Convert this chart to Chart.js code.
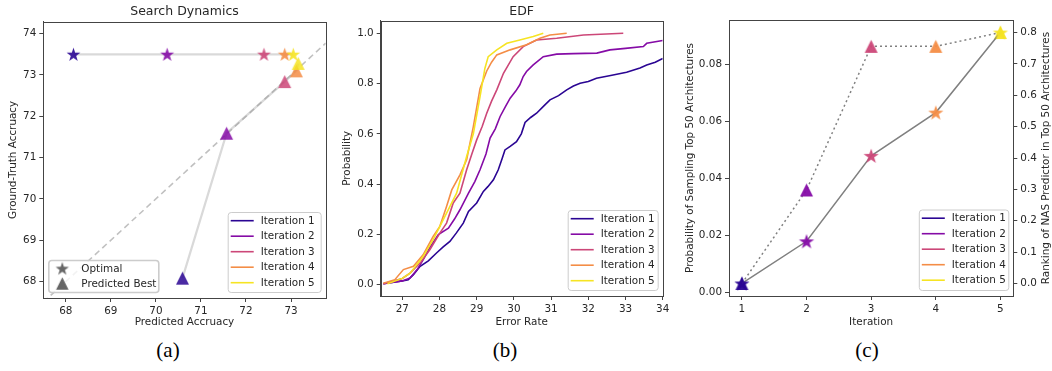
<!DOCTYPE html>
<html>
<head>
<meta charset="utf-8">
<title>Search Dynamics / EDF / Sampling probability</title>
<script src="https://cdn.jsdelivr.net/npm/chart.js"></script>
<style>
  body { margin: 0; background: #fff; }
  #fig { position: relative; width: 1052px; height: 371px; overflow: hidden; }
  canvas { position: absolute; }
  .sub { position: absolute; top: 338px; transform: translateX(-50%);
         font-family: "Liberation Serif", "DejaVu Serif", serif; font-size: 21px; color: #000; }
</style>
</head>
<body>
<div id="fig">
  <canvas id="chartA"></canvas>
  <canvas id="chartB"></canvas>
  <canvas id="chartC"></canvas>
  <div class="sub" style="left:168px">(a)</div>
  <div class="sub" style="left:505px">(b)</div>
  <div class="sub" style="left:867px">(c)</div>
</div>
<script>
// ---- data ----
const iterLabels = ['Iteration 1', 'Iteration 2', 'Iteration 3', 'Iteration 4', 'Iteration 5'];
const iterColors = ['#2a0593', '#850ba6', '#cc4778', '#f48d46', '#f6e423'];

// (a) search dynamics
const optimalPred = [68.17, 70.25, 72.40, 72.86, 73.05];
const optimalTrue = [73.5, 73.5, 73.5, 73.5, 73.5];
const bestPred = [70.59, 71.57, 72.86, 73.12, 73.16];
const bestTrue = [68.08, 71.59, 72.84, 73.10, 73.28];
const aTicksX = [68, 69, 70, 71, 72, 73];
const aTicksY = [68, 69, 70, 71, 72, 73, 74];

// (b) EDF of error rate per iteration
const edfErr1 = [26.49, 27.0, 27.16, 27.3, 27.48, 27.7, 27.92, 28.1, 28.28, 28.45, 28.64, 28.78, 29.0, 29.18, 29.3, 29.45, 29.58, 29.68, 29.76, 29.9, 30.07, 30.2, 30.3, 30.45, 30.61, 30.8, 30.97, 31.2, 31.42, 31.6, 31.78, 32.0, 32.22, 32.6, 33.03, 33.39, 33.57, 33.8, 34.0];
const edfProb1 = [0.004, 0.015, 0.02, 0.04, 0.073, 0.095, 0.126, 0.15, 0.172, 0.205, 0.245, 0.291, 0.325, 0.371, 0.39, 0.417, 0.457, 0.5, 0.536, 0.55, 0.569, 0.6, 0.645, 0.665, 0.682, 0.71, 0.735, 0.752, 0.775, 0.79, 0.801, 0.808, 0.821, 0.832, 0.845, 0.862, 0.874, 0.885, 0.9];
const edfErr2 = [26.49, 27.0, 27.21, 27.4, 27.56, 27.75, 27.97, 28.24, 28.4, 28.55, 28.78, 28.95, 29.09, 29.25, 29.36, 29.5, 29.63, 29.78, 29.9, 30.05, 30.16, 30.25, 30.34, 30.52, 30.79, 31.15, 31.6, 32.23, 32.58, 33.0, 33.48, 33.57, 34.0];
const edfProb2 = [0.004, 0.015, 0.027, 0.06, 0.099, 0.15, 0.199, 0.225, 0.26, 0.298, 0.364, 0.41, 0.457, 0.52, 0.583, 0.62, 0.669, 0.71, 0.742, 0.77, 0.795, 0.828, 0.848, 0.874, 0.907, 0.917, 0.919, 0.921, 0.934, 0.94, 0.947, 0.96, 0.971];
const edfErr3 = [26.49, 27.0, 27.21, 27.5, 27.74, 28.01, 28.19, 28.37, 28.55, 28.73, 28.87, 29.0, 29.15, 29.27, 29.4, 29.54, 29.72, 29.98, 30.25, 30.61, 31.15, 31.87, 32.94];
const edfProb3 = [0.004, 0.025, 0.046, 0.09, 0.139, 0.205, 0.245, 0.325, 0.364, 0.457, 0.52, 0.576, 0.63, 0.682, 0.73, 0.775, 0.841, 0.907, 0.947, 0.973, 0.98, 0.993, 1.0];
const edfErr4 = [26.49, 26.8, 27.03, 27.3, 27.56, 27.83, 28.01, 28.19, 28.33, 28.55, 28.73, 28.91, 29.09, 29.27, 29.4, 29.54, 29.9, 30.34, 30.7, 30.97, 31.42];
const edfProb4 = [0.006, 0.02, 0.06, 0.073, 0.119, 0.192, 0.232, 0.311, 0.377, 0.437, 0.497, 0.629, 0.78, 0.85, 0.885, 0.914, 0.934, 0.954, 0.98, 0.993, 1.0];
const edfErr5 = [26.6, 27.0, 27.21, 27.56, 27.83, 28.01, 28.19, 28.46, 28.73, 28.91, 29.09, 29.22, 29.31, 29.54, 29.81, 30.16, 30.52, 30.79];
const edfProb5 = [0.004, 0.025, 0.046, 0.112, 0.179, 0.232, 0.285, 0.364, 0.51, 0.6, 0.748, 0.86, 0.907, 0.934, 0.96, 0.973, 0.987, 1.0];
const bTicksX = [27, 28, 29, 30, 31, 32, 33, 34];
const bTicksY = [0, 0.2, 0.4, 0.6, 0.8, 1.0];

// (c) per-iteration sampling probability and predictor ranking
const iterations = [1, 2, 3, 4, 5];
const sampleProb = [0.0032, 0.018, 0.048, 0.0632, 0.0913];
const rankTop50 = [0.0, 0.298, 0.756, 0.756, 0.80];
const cTicksLeft = [0, 0.02, 0.04, 0.06, 0.08];
const cTicksRight = [0, 0.1, 0.2, 0.3, 0.4, 0.5, 0.6, 0.7, 0.8];

// ---- helpers ----
Chart.defaults.font.family = 'DejaVu Sans';
Chart.defaults.font.size = 10.4;
Chart.defaults.color = '#262626';
const SPINE = '#444';

function pts(xs, ys) { return xs.map((x, i) => ({x: x, y: ys[i]})); }

function markerImg(kind, color, size, alpha) {
  const c = document.createElement('canvas');
  c.width = c.height = Math.ceil(size) + 2;
  const g = c.getContext('2d');
  const cx = c.width / 2, cy = c.height / 2, R = size / 2;
  g.beginPath();
  if (kind === 'star') {
    for (let i = 0; i < 10; i++) {
      const rr = i % 2 ? R * 0.39 : R;
      const ang = -Math.PI / 2 + i * Math.PI / 5;
      g.lineTo(cx + rr * Math.cos(ang), cy + 0.08 * R + rr * Math.sin(ang));
    }
  } else {
    g.moveTo(cx, cy - R);
    g.lineTo(cx - R, cy + R);
    g.lineTo(cx + R, cy + R);
  }
  g.closePath();
  g.globalAlpha = alpha;
  g.fillStyle = color;
  g.fill();
  return c;
}

function place(id, box) {
  const c = document.getElementById(id);
  c.width = box.w; c.height = box.h;
  c.style.left = box.x + 'px'; c.style.top = box.y + 'px';
  c.style.width = box.w + 'px'; c.style.height = box.h + 'px';
  return c;
}

function linScale(pos, min, max, ticks, digits, fitSize, titleText, titlePad) {
  return {
    type: 'linear', position: pos, min: min, max: max,
    afterBuildTicks: s => { s.ticks = ticks.map(v => ({value: v})); },
    afterFit: s => { if (pos === 'bottom') s.height = fitSize; else s.width = fitSize; },
    grid: { display: true, drawOnChartArea: false, drawTicks: true, tickLength: 4, color: SPINE },
    border: { display: true, color: SPINE },
    ticks: { padding: 3, maxRotation: 0, autoSkip: false, callback: v => Number(v).toFixed(digits) },
    title: { display: !!titleText, text: titleText || '', padding: titlePad, font: {size: 10.4} }
  };
}

function roundBox(ctx, x, y, w, h, r) {
  ctx.beginPath();
  ctx.moveTo(x + r, y);
  ctx.arcTo(x + w, y, x + w, y + h, r);
  ctx.arcTo(x + w, y + h, x, y + h, r);
  ctx.arcTo(x, y + h, x, y, r);
  ctx.arcTo(x, y, x + w, y, r);
  ctx.closePath();
}

// frame (all four spines), titles and boxed legends
const panelDecor = {
  id: 'panelDecor',
  afterDraw(chart, args, o) {
    const ctx = chart.ctx, a = chart.chartArea;
    ctx.save();
    ctx.strokeStyle = SPINE; ctx.lineWidth = 1;
    ctx.strokeRect(Math.round(a.left) + 0.5, Math.round(a.top) + 0.5,
                   Math.round(a.right) - Math.round(a.left), Math.round(a.bottom) - Math.round(a.top));
    ctx.fillStyle = '#262626';
    ctx.textBaseline = 'middle';
    if (o.title) {
      ctx.font = '12.5px "DejaVu Sans"';
      ctx.textAlign = 'center';
      ctx.fillText(o.title, (a.left + a.right) / 2, 11.5);
    }
    if (o.rightTitle) {
      ctx.font = '10.4px "DejaVu Sans"';
      ctx.textAlign = 'center';
      ctx.translate(o.rightTitleX, (a.top + a.bottom) / 2);
      ctx.rotate(-Math.PI / 2);
      ctx.fillText(o.rightTitle, 0, 0);
      ctx.setTransform(1, 0, 0, 1, 0, 0);
    }
    (o.legends || []).forEach(lg => {
      const x = lg.corner === 'bl' ? a.left + lg.dx : a.right - lg.dx - lg.w;
      const y = a.bottom - lg.dy - lg.h;
      roundBox(ctx, x + 0.5, y + 0.5, lg.w, lg.h, 3);
      ctx.fillStyle = 'rgba(255,255,255,0.8)';
      ctx.fill();
      ctx.strokeStyle = '#cccccc';
      ctx.stroke();
      ctx.font = '10.4px "DejaVu Sans"';
      ctx.textAlign = 'left';
      lg.rows.forEach((row, i) => {
        const ry = y + lg.first + i * lg.step;
        if (row.img) {
          ctx.drawImage(row.img, x + lg.mark - row.img.width / 2, ry - row.img.height / 2);
        } else {
          ctx.strokeStyle = row.color; ctx.lineWidth = 1.6;
          ctx.beginPath(); ctx.moveTo(x + lg.s0, ry); ctx.lineTo(x + lg.s1, ry); ctx.stroke();
        }
        ctx.fillStyle = '#262626';
        ctx.fillText(row.label, x + lg.tx, ry + 0.5);
      });
    });
    ctx.restore();
  }
};

function iterLegend(w, h) {
  return { corner: 'br', dx: 5, dy: 6, w: w, h: h, first: 8.7, step: 15.5, s0: 3, s1: 26, tx: 33,
           rows: iterLabels.map((l, i) => ({label: l, color: iterColors[i]})) };
}

const common = { responsive: false, animation: false, events: [], devicePixelRatio: 1 };

// ---- (a) Search Dynamics ----
(function () {
  const box = {x: 0, y: 0, w: 340, h: 335};
  const area = {l: 43.3, t: 21.7, r: 325.7, b: 298};
  const xr = [67.5, 73.77], yr = [67.6, 74.29];
  const starImgs = iterColors.map(c => markerImg('star', c, 14.5, 0.9));
  const triImgs = iterColors.map(c => markerImg('tri', c, 13, 0.85));
  new Chart(place('chartA', box), {
    type: 'line',
    data: { datasets: [
      { label: 'y = x', data: [{x: xr[0], y: xr[0]}, {x: xr[1], y: xr[1]}], borderColor: 'rgba(150,150,150,0.6)',
        borderDash: [6, 4], borderWidth: 1.6, pointRadius: 0, order: 5 },
      { label: 'optimal trace', data: pts(optimalPred, optimalTrue), borderColor: 'rgba(160,160,160,0.4)',
        borderWidth: 2.2, pointRadius: 0, order: 4 },
      { label: 'best trace', data: pts(bestPred, bestTrue), borderColor: 'rgba(160,160,160,0.4)',
        borderWidth: 2.2, pointRadius: 0, order: 3 },
      { label: 'Optimal', data: pts(optimalPred, optimalTrue), showLine: false, pointStyle: starImgs, pointRadius: 6, order: 2 },
      { label: 'Predicted Best', data: pts(bestPred, bestTrue), showLine: false, pointStyle: triImgs, pointRadius: 6, order: 1 }
    ]},
    options: Object.assign({}, common, {
      layout: { padding: { top: area.t - box.y, right: box.w - area.r, left: 0, bottom: 0 } },
      scales: {
        x: linScale('bottom', xr[0], xr[1], aTicksX, 0, box.h - area.b, 'Predicted Accruacy', {top: 2, bottom: 6}),
        y: linScale('left', yr[0], yr[1], aTicksY, 0, area.l, 'Ground-Truth Accruacy', {top: 7, bottom: 0})
      },
      plugins: {
        legend: { display: false }, tooltip: { enabled: false },
        panelDecor: {
          title: 'Search Dynamics',
          legends: [
            iterLegend(93, 80),
            { corner: 'bl', dx: 5, dy: 6, w: 110, h: 32, first: 8.5, step: 15, mark: 14, tx: 33,
              rows: [ {label: 'Optimal', img: markerImg('star', '#555555', 14, 0.9)},
                      {label: 'Predicted Best', img: markerImg('tri', '#555555', 12.5, 0.9)} ] }
          ]
        }
      }
    }),
    plugins: [panelDecor]
  });
})();

// ---- (b) EDF ----
(function () {
  const box = {x: 340, y: 0, w: 340, h: 335};
  const area = {l: 380.7, t: 20.7, r: 662.7, b: 296};
  const curves = [[edfErr1, edfProb1], [edfErr2, edfProb2], [edfErr3, edfProb3], [edfErr4, edfProb4], [edfErr5, edfProb5]];
  new Chart(place('chartB', box), {
    type: 'line',
    data: { datasets: curves.map((c, i) => ({
      label: iterLabels[i], data: pts(c[0], c[1]), borderColor: iterColors[i], borderWidth: 1.6,
      pointRadius: 0, order: 5 - i })) },
    options: Object.assign({}, common, {
      layout: { padding: { top: area.t - box.y, right: box.x + box.w - area.r, left: 0, bottom: 0 } },
      scales: {
        x: linScale('bottom', 26.42, 34, bTicksX, 0, box.h - area.b, 'Error Rate', {top: 2, bottom: 6}),
        y: linScale('left', -0.045, 1.05, bTicksY, 1, area.l - box.x, 'Probability', {top: 1.3, bottom: 0})
      },
      plugins: {
        legend: { display: false }, tooltip: { enabled: false },
        panelDecor: { title: 'EDF', legends: [ iterLegend(90, 80) ] }
      }
    }),
    plugins: [panelDecor]
  });
})();

// ---- (c) sampling probability / predictor ranking ----
(function () {
  const box = {x: 680, y: 0, w: 372, h: 335};
  const area = {l: 729, t: 20, r: 1013.3, b: 296};
  const starImgs = iterColors.map(c => markerImg('star', c, 16, 0.95));
  const triImgs = iterColors.map(c => markerImg('tri', c, 13, 0.95));
  new Chart(place('chartC', box), {
    type: 'line',
    data: { datasets: [
      { label: 'Probability of Sampling Top 50', data: pts(iterations, sampleProb), yAxisID: 'y',
        borderColor: '#808080', borderWidth: 1.5, pointStyle: starImgs, pointRadius: 6, order: 1 },
      { label: 'Ranking of NAS Predictor', data: pts(iterations, rankTop50), yAxisID: 'y1',
        borderColor: '#808080', borderWidth: 1.5, borderDash: [2, 3], pointStyle: triImgs, pointRadius: 6, order: 2 }
    ]},
    options: Object.assign({}, common, {
      layout: { padding: { top: area.t - box.y, right: 0, left: 0, bottom: 0 } },
      scales: {
        x: linScale('bottom', 0.8, 5.2, iterations, 0, box.h - area.b, 'Iteration', {top: 2, bottom: 6}),
        y: linScale('left', -0.0012, 0.0957, cTicksLeft, 2, area.l - box.x,
                    'Probability of Sampling Top 50 Architectures', {top: 3.8, bottom: 0}),
        y1: linScale('right', -0.04, 0.84, cTicksRight, 1, box.x + box.w - area.r, '', 0)
      },
      plugins: {
        legend: { display: false }, tooltip: { enabled: false },
        panelDecor: {
          rightTitle: 'Ranking of NAS Predictor in Top 50 Architectures', rightTitleX: 366,
          legends: [ iterLegend(89.5, 80.5) ]
        }
      }
    }),
    plugins: [panelDecor]
  });
})();
</script>
</body>
</html>
